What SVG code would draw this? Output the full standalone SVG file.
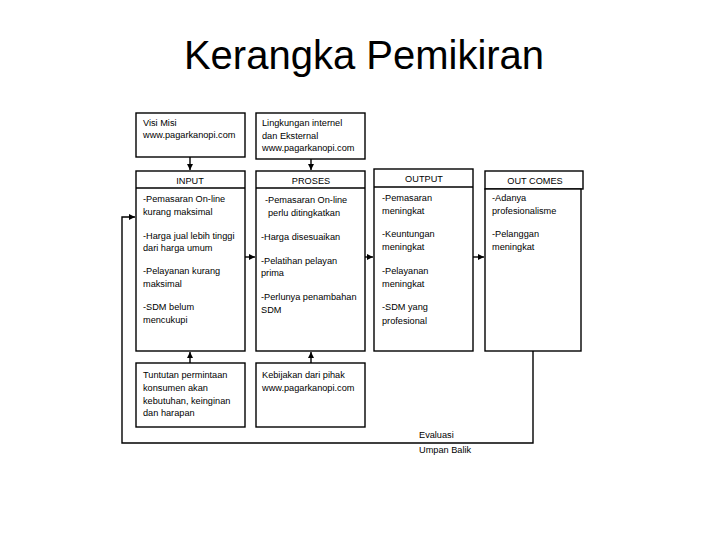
<svg xmlns="http://www.w3.org/2000/svg" width="728" height="546" viewBox="0 0 728 546">
<defs>
<marker id="ah" viewBox="0 0 6 6" refX="6" refY="3" markerWidth="6" markerHeight="6" markerUnits="userSpaceOnUse" orient="auto">
<path d="M0,0 L6,3 L0,6 Z" fill="#000"/>
</marker>
<style>
.box{fill:#fff;stroke:#000;stroke-width:1.4}
.t{font-family:"Liberation Sans",Arial,sans-serif;font-size:9.2px;fill:#000}
.c{text-anchor:middle}
.ln{fill:none;stroke:#000;stroke-width:1.4}
.title{font-family:"Liberation Sans",Arial,sans-serif;font-size:40px;fill:#000;text-anchor:middle}
</style>
</defs>
<rect width="728" height="546" fill="#fff"/>
<text class="title" x="364" y="69">Kerangka Pemikiran</text>

<g id="connectors">
<path class="ln" d="M533,351 V443 H122 V217 H135" marker-end="url(#ah)"/>
<path class="ln" d="M190,157 V170" marker-end="url(#ah)"/>
<path class="ln" d="M311,159 V170" marker-end="url(#ah)"/>
<path class="ln" d="M190,363 V352" marker-end="url(#ah)"/>
<path class="ln" d="M311,363 V352" marker-end="url(#ah)"/>
<path class="ln" d="M245,257 H255" marker-end="url(#ah)"/>
<path class="ln" d="M365,257 H373" marker-end="url(#ah)"/>
<path class="ln" d="M473,257 H484" marker-end="url(#ah)"/>
</g>

<g id="visi">
<rect class="box" x="136" y="113" width="109" height="44"/>
<text class="t" x="143" y="126">Visi Misi</text>
<text class="t" x="143" y="138">www.pagarkanopi.com</text>
</g>

<g id="lingkungan">
<rect class="box" x="256" y="113" width="109" height="46"/>
<text class="t" x="262" y="126">Lingkungan internel</text>
<text class="t" x="262" y="139">dan Eksternal</text>
<text class="t" x="262" y="151">www.pagarkanopi.com</text>
</g>

<g id="input">
<rect class="box" x="136" y="171" width="109" height="180"/>
<line class="ln" x1="136" y1="188" x2="245" y2="188"/>
<text class="t c" x="190" y="184">INPUT</text>
<text class="t" x="143" y="202">-Pemasaran On-line</text>
<text class="t" x="143" y="215">kurang maksimal</text>
<text class="t" x="143" y="239">-Harga jual lebih tinggi</text>
<text class="t" x="143" y="251">dari harga umum</text>
<text class="t" x="143" y="274">-Pelayanan kurang</text>
<text class="t" x="143" y="287">maksimal</text>
<text class="t" x="143" y="310">-SDM belum</text>
<text class="t" x="143" y="323">mencukupi</text>
</g>

<g id="proses">
<rect class="box" x="256" y="171" width="109" height="180"/>
<line class="ln" x1="256" y1="188" x2="365" y2="188"/>
<text class="t c" x="311" y="184">PROSES</text>
<text class="t" x="265" y="203">-Pemasaran On-line</text>
<text class="t" x="268" y="216">perlu ditingkatkan</text>
<text class="t" x="261" y="240">-Harga disesuaikan</text>
<text class="t" x="261" y="264">-Pelatihan pelayan</text>
<text class="t" x="261" y="276">prima</text>
<text class="t" x="261" y="300">-Perlunya penambahan</text>
<text class="t" x="261" y="313">SDM</text>
</g>

<g id="output">
<rect class="box" x="374" y="169" width="99" height="182"/>
<line class="ln" x1="374" y1="187" x2="473" y2="187"/>
<text class="t c" x="424" y="182">OUTPUT</text>
<text class="t" x="382" y="201">-Pemasaran</text>
<text class="t" x="382" y="214">meningkat</text>
<text class="t" x="382" y="237">-Keuntungan</text>
<text class="t" x="382" y="250">meningkat</text>
<text class="t" x="382" y="274">-Pelayanan</text>
<text class="t" x="382" y="287">meningkat</text>
<text class="t" x="382" y="310">-SDM yang</text>
<text class="t" x="382" y="324">profesional</text>
</g>

<g id="outcomes">
<rect class="box" x="485" y="171" width="98" height="18"/>
<rect class="box" x="485" y="189" width="96" height="162"/>
<text class="t c" x="535" y="184">OUT COMES</text>
<text class="t" x="492" y="201">-Adanya</text>
<text class="t" x="492" y="214">profesionalisme</text>
<text class="t" x="492" y="237">-Pelanggan</text>
<text class="t" x="492" y="250">meningkat</text>
</g>

<g id="tuntutan">
<rect class="box" x="136" y="363" width="109" height="64"/>
<text class="t" x="143" y="378">Tuntutan permintaan</text>
<text class="t" x="143" y="391">konsumen akan</text>
<text class="t" x="143" y="404">kebutuhan, keinginan</text>
<text class="t" x="143" y="416">dan harapan</text>
</g>

<g id="kebijakan">
<rect class="box" x="256" y="363" width="109" height="64"/>
<text class="t" x="262" y="378">Kebijakan dari pihak</text>
<text class="t" x="262" y="391">www.pagarkanopi.com</text>
</g>

<g id="feedback-label">
<text class="t" x="419" y="438">Evaluasi</text>
<text class="t" x="419" y="453">Umpan Balik</text>
</g>
</svg>
